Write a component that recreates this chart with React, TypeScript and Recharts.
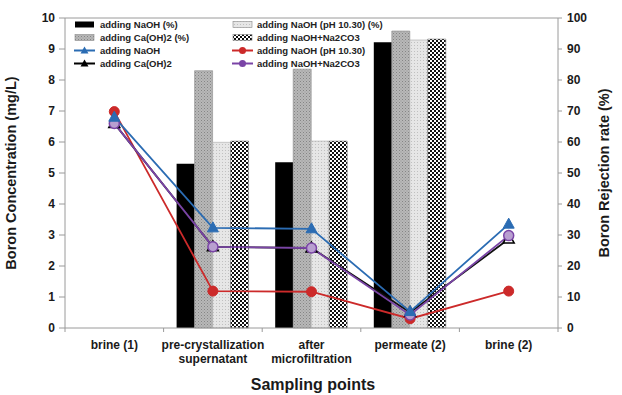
import React from 'react';
import { ComposedChart, Bar, Line, XAxis, YAxis, ReferenceLine } from 'recharts';

const categories = ['brine (1)', 'pre-crystallization\nsupernatant', 'after\nmicrofiltration', 'permeate (2)', 'brine (2)'];

// Rejection rate (%) - right axis
const naohPct = [null, 53, 53.5, 92.2, null];
const caoh2Pct = [null, 83, 83.5, 95.8, null];
const naohPh1030Pct = [null, 59.9, 60.3, 92.9, null];
const naohNa2co3Pct = [null, 60.3, 60.3, 93.2, null];

// Boron concentration (mg/L) - left axis
const naohConc = [6.8, 3.23, 3.2, 0.53, 3.35];
const caoh2Conc = [6.6, 2.62, 2.58, 0.5, 2.87];
const naohPh1030Conc = [6.98, 1.19, 1.17, 0.3, 1.19];
const naohNa2co3Conc = [6.6, 2.62, 2.58, 0.42, 2.98];

const leftTicks = [0, 1, 2, 3, 4, 5, 6, 7, 8, 9, 10];
const rightTicks = [0, 10, 20, 30, 40, 50, 60, 70, 80, 90, 100];

const legendLeft = ['adding NaOH (%)', 'adding Ca(OH)2 (%)', 'adding NaOH', 'adding Ca(OH)2'];
const legendRight = ['adding NaOH (pH 10.30) (%)', 'adding NaOH+Na2CO3', 'adding NaOH (pH 10.30)', 'adding NaOH+Na2CO3'];

const data = categories.map((c, i) => ({
  name: c,
  naohPct: naohPct[i],
  caoh2Pct: caoh2Pct[i],
  phPct: naohPh1030Pct[i],
  na2co3Pct: naohNa2co3Pct[i],
  naoh: naohConc[i],
  caoh2: caoh2Conc[i],
  ph: naohPh1030Conc[i],
  na2co3: naohNa2co3Conc[i],
}));

const W = 622;
const H = 395;
const LEFT_W = 65;
const RIGHT_W = 64;
const TOP = 18;
const XAXIS_H = 67;
const FONT = '"Liberation Sans", Arial, sans-serif';
const BLUE = '#2b6cb3';
const RED = '#cc2a2a';
const PURPLE = '#7a44a6';
const AXIS = '#9a9a9a';

const band = (W - LEFT_W - RIGHT_W) / categories.length;

const XTick = (props: any) => {
  const { x, payload, index } = props;
  const lines = String(payload.value).split('\n');
  const top = TOP + (H - TOP - XAXIS_H);
  return (
    <g>
      <line x1={x - band / 2} y1={top} x2={x - band / 2} y2={top + 4} stroke={AXIS} />
      {index === categories.length - 1 && (
        <line x1={x + band / 2} y1={top} x2={x + band / 2} y2={top + 4} stroke={AXIS} />
      )}
      <text x={x} y={top + 21} textAnchor="middle" fontFamily={FONT} fontWeight="bold" fontSize={12} fill="#1a1a1a">
        {lines.map((l, i) => (
          <tspan key={i} x={x} dy={i === 0 ? 0 : 14}>{l}</tspan>
        ))}
      </text>
    </g>
  );
};

const TriFilled = (props: any) => {
  const { cx, cy } = props;
  if (cx == null || cy == null) return null;
  return <path d={`M${cx},${cy - 6} L${cx + 5.5},${cy + 4} L${cx - 5.5},${cy + 4} Z`} fill={BLUE} stroke={BLUE} strokeWidth={1} />;
};
const TriOpen = (props: any) => {
  const { cx, cy } = props;
  if (cx == null || cy == null) return null;
  return <path d={`M${cx},${cy - 6} L${cx + 5.5},${cy + 4} L${cx - 5.5},${cy + 4} Z`} fill="#fff" stroke="#000" strokeWidth={1.5} />;
};
const DotRed = (props: any) => {
  const { cx, cy } = props;
  if (cx == null || cy == null) return null;
  return <circle cx={cx} cy={cy} r={5} fill={RED} stroke={RED} />;
};
const DotPurple = (props: any) => {
  const { cx, cy } = props;
  if (cx == null || cy == null) return null;
  return <circle cx={cx} cy={cy} r={5} fill="#b89fd0" stroke={PURPLE} strokeWidth={1.5} />;
};

const barFills = ['#000', 'url(#patGray)', 'url(#patLight)', 'url(#patCheck)'];
const lineIcons = [
  { color: BLUE, marker: (x: number, y: number) => <path d={`M${x},${y - 4} L${x + 4},${y + 3} L${x - 4},${y + 3} Z`} fill={BLUE} /> },
  { color: '#000', marker: (x: number, y: number) => <path d={`M${x},${y - 4} L${x + 4},${y + 3} L${x - 4},${y + 3} Z`} fill="#000" /> },
  { color: RED, marker: (x: number, y: number) => <circle cx={x} cy={y} r={3.5} fill={RED} /> },
  { color: PURPLE, marker: (x: number, y: number) => <circle cx={x} cy={y} r={3.5} fill={PURPLE} /> },
];

export default function App() {
  const rows = [24.5, 37.5, 50.5, 63.5];
  return (
    <div style={{ position: 'absolute', left: 0, top: 0, width: W, height: H, background: '#fff' }}>
      <svg width={0} height={0} style={{ position: 'absolute' }}>
        <defs>
          <pattern id="patGray" width={3} height={3} patternUnits="userSpaceOnUse">
            <rect width={3} height={3} fill="#b8b8b8" />
            <rect x={0} y={0} width={1} height={1} fill="#858585" />
            <rect x={1.5} y={1.5} width={1} height={1} fill="#959595" />
          </pattern>
          <pattern id="patLight" width={3} height={3} patternUnits="userSpaceOnUse">
            <rect width={3} height={3} fill="#e6e6e6" />
            <rect x={0} y={0} width={1} height={1} fill="#c0c0c0" />
          </pattern>
          <pattern id="patCheck" width={4} height={4} patternUnits="userSpaceOnUse">
            <rect width={4} height={4} fill="#fff" />
            <rect x={0} y={0} width={2} height={2} fill="#111" />
            <rect x={2} y={2} width={2} height={2} fill="#111" />
          </pattern>
        </defs>
      </svg>
      <ComposedChart
        width={W}
        height={H}
        data={data}
        margin={{ top: TOP, right: 0, bottom: 0, left: 0 }}
        barGap={0}
        barSize={18}
      >
        <XAxis
          dataKey="name"
          height={XAXIS_H}
          interval={0}
          tickLine={false}
          axisLine={{ stroke: AXIS }}
          tick={<XTick />}
        />
        <YAxis
          yAxisId="left"
          orientation="left"
          width={LEFT_W}
          domain={[0, 10]}
          ticks={leftTicks}
          interval={0}
          axisLine={{ stroke: AXIS }}
          tickLine={{ stroke: AXIS }}
          tickSize={6}
          tickMargin={4}
          tick={{ fontFamily: FONT, fontWeight: 'bold', fontSize: 12, fill: '#1a1a1a' }}
        />
        <YAxis
          yAxisId="right"
          orientation="right"
          width={RIGHT_W}
          domain={[0, 100]}
          ticks={rightTicks}
          interval={0}
          axisLine={{ stroke: AXIS }}
          tickLine={{ stroke: AXIS }}
          tickSize={4}
          tickMargin={5}
          tick={{ fontFamily: FONT, fontWeight: 'bold', fontSize: 12, fill: '#1a1a1a', textAnchor: 'start' }}
        />
        <ReferenceLine yAxisId="left" y={10} stroke={AXIS} />
        <Bar yAxisId="right" dataKey="naohPct" fill={barFills[0]} isAnimationActive={false} />
        <Bar yAxisId="right" dataKey="caoh2Pct" fill={barFills[1]} stroke="#8a8a8a" strokeWidth={0.6} isAnimationActive={false} />
        <Bar yAxisId="right" dataKey="phPct" fill={barFills[2]} stroke="#aaa" strokeWidth={0.6} isAnimationActive={false} />
        <Bar yAxisId="right" dataKey="na2co3Pct" fill={barFills[3]} stroke="#777" strokeWidth={0.6} isAnimationActive={false} />
        <Line yAxisId="left" dataKey="ph" stroke={RED} strokeWidth={1.8} dot={<DotRed />} isAnimationActive={false} />
        <Line yAxisId="left" dataKey="caoh2" stroke="#111" strokeWidth={1.8} dot={<TriOpen />} isAnimationActive={false} />
        <Line yAxisId="left" dataKey="na2co3" stroke={PURPLE} strokeWidth={1.8} dot={<DotPurple />} isAnimationActive={false} />
        <Line yAxisId="left" dataKey="naoh" stroke={BLUE} strokeWidth={1.8} dot={<TriFilled />} isAnimationActive={false} />
      </ComposedChart>
      <svg width={W} height={H} style={{ position: 'absolute', left: 0, top: 0, pointerEvents: 'none' }}>
        <text
          transform={`translate(16, 173) rotate(-90)`}
          textAnchor="middle"
          fontFamily={FONT}
          fontWeight="bold"
          fontSize={14.5}
          fill="#1a1a1a"
        >
          Boron Concentration (mg/L)
        </text>
        <text
          transform={`translate(609, 173) rotate(-90)`}
          textAnchor="middle"
          fontFamily={FONT}
          fontWeight="bold"
          fontSize={14.5}
          fill="#1a1a1a"
        >
          Boron Rejection rate (%)
        </text>
        <text x={313} y={390} textAnchor="middle" fontFamily={FONT} fontWeight="bold" fontSize={16} fill="#1a1a1a">
          Sampling points
        </text>
        {legendLeft.map((t, i) => {
          const y = rows[i];
          return (
            <g key={'l' + i}>
              {i < 2 ? (
                <rect x={75} y={y - 3} width={19} height={6} fill={barFills[i]} stroke={i === 1 ? '#8a8a8a' : 'none'} strokeWidth={0.6} />
              ) : (
                <g>
                  <line x1={74} y1={y} x2={95} y2={y} stroke={lineIcons[i - 2].color} strokeWidth={2} />
                  {lineIcons[i - 2].marker(84.5, y)}
                </g>
              )}
              <text x={100} y={y + 3.5} fontFamily={FONT} fontWeight="bold" fontSize={9.5} fill="#222">{t}</text>
            </g>
          );
        })}
        {legendRight.map((t, i) => {
          const y = rows[i];
          return (
            <g key={'r' + i}>
              {i < 2 ? (
                <rect x={233} y={y - 3} width={19} height={6} fill={barFills[i + 2]} stroke="#888" strokeWidth={0.6} />
              ) : (
                <g>
                  <line x1={232} y1={y} x2={253} y2={y} stroke={lineIcons[i].color} strokeWidth={2} />
                  {lineIcons[i].marker(242.5, y)}
                </g>
              )}
              <text x={257} y={y + 3.5} fontFamily={FONT} fontWeight="bold" fontSize={9.5} fill="#222">{t}</text>
            </g>
          );
        })}
      </svg>
    </div>
  );
}
